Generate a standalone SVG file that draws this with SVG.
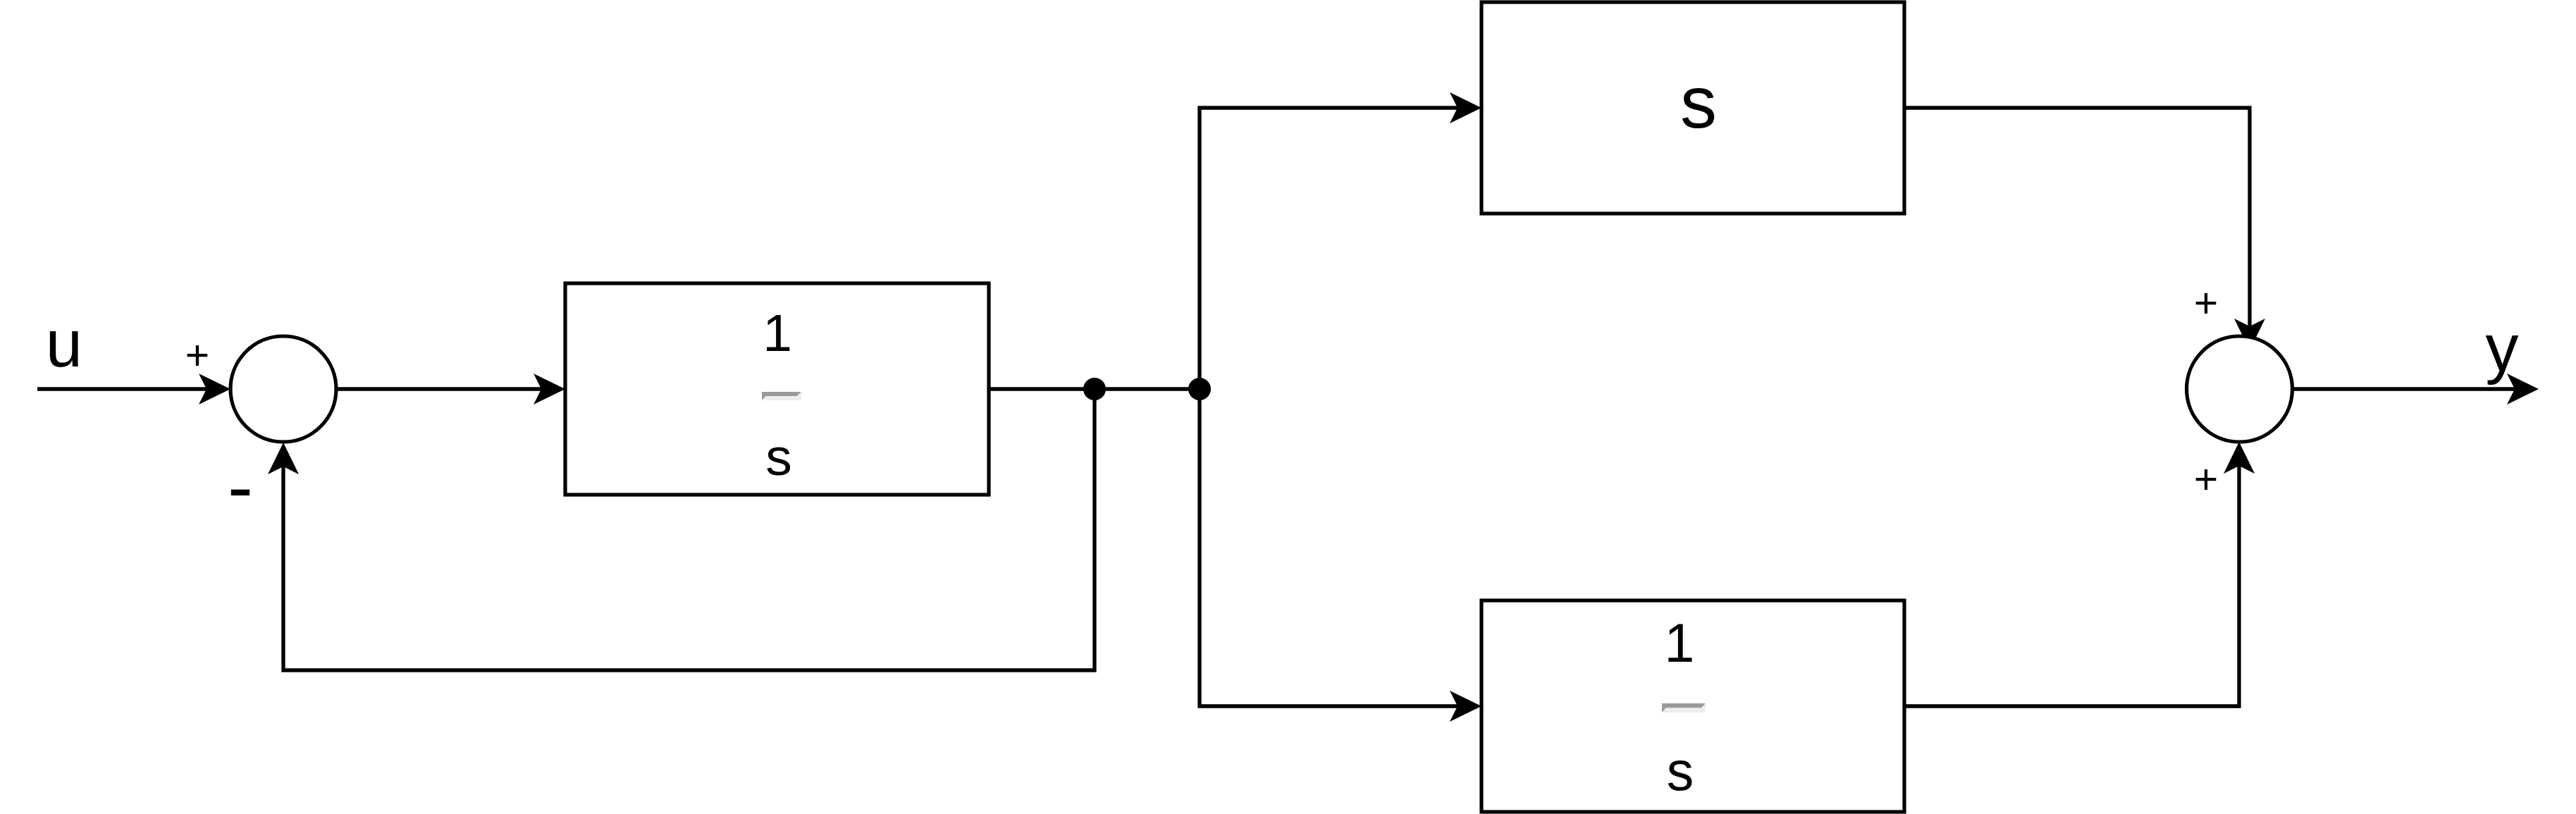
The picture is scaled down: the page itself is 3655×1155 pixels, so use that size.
<svg xmlns="http://www.w3.org/2000/svg" width="3655" height="1155" viewBox="0 0 3655 1155">
<style>
  .blk { fill: #ffffff; stroke: #000000; stroke-width: 5.2; }
  .sum { fill: #ffffff; stroke: #000000; stroke-width: 5.2; }
  .wire { fill: none; stroke: #000000; stroke-width: 5.3; stroke-linecap: butt; stroke-linejoin: miter; }
  .arr { marker-end: url(#arrow); }
  .dot { fill: #000000; }
  text { font-family: "Liberation Sans", Arial, Helvetica, sans-serif; fill: #000000; text-anchor: middle; }
  .big { font-size: 94px; }
  .frac { font-size: 75px; }
  .sign { font-size: 59px; }
  .hrd { fill: #9a9a9a; }
  .hrl { fill: #eeeeee; }
</style>
<defs>
  <marker id="arrow" markerUnits="userSpaceOnUse" markerWidth="50" markerHeight="50" refX="11" refY="25" orient="auto" overflow="visible">
    <path d="M0,3 L45,25 L0,47 L11,25 Z" fill="#000000"/>
  </marker>
</defs>

<g id="connectors">
  <path class="wire arr" d="M53,552 L293,552"/>
  <path class="wire arr" d="M477,552 L768,552"/>
  <path class="wire" d="M1404,552 L1702,552"/>
  <path class="wire arr" d="M1553,552 L1553,951 L402,951 L402,662"/>
  <path class="wire arr" d="M1702,552 L1702,153 L2068,153"/>
  <path class="wire arr" d="M1702,552 L1702,1002 L2068,1002"/>
  <path class="wire arr" d="M2702,153 L3192,153 L3192,463"/>
  <path class="wire arr" d="M2702,1002 L3177,1002 L3177,661"/>
  <path class="wire arr" d="M3253,552 L3568,552"/>
  <circle class="dot" cx="1553" cy="552" r="16"/>
  <circle class="dot" cx="1702" cy="552" r="16"/>
</g>

<g id="label-u">
  <text class="big" x="91" y="520">u</text>
</g>

<g id="sum1">
  <circle class="sum" cx="402" cy="552" r="75"/>
  <text class="sign" x="280" y="524">+</text>
  <text x="341" y="727" style="font-size:108px">-</text>
</g>

<g id="block-integrator1">
  <rect class="blk" x="802" y="402" width="601" height="300"/>
  <text class="frac" x="1103" y="498">1</text>
  <polygon class="hrd" points="1081,556 1137,556 1131,562 1087,562 1081,568"/>
  <polygon class="hrl" points="1081,568 1087,562 1131,562 1137,556 1137,568"/>
  <text class="frac" x="1105" y="674">s</text>
</g>

<g id="block-s">
  <rect class="blk" x="2102" y="3" width="600" height="300"/>
  <text x="2410" y="181" style="font-size:104px">s</text>
</g>

<g id="block-integrator2">
  <rect class="blk" x="2102" y="852" width="600" height="300"/>
  <text class="frac" x="2383" y="939" style="font-size:77px">1</text>
  <polygon class="hrd" points="2358,998 2420,998 2414,1004.5 2364,1004.5 2358,1011"/>
  <polygon class="hrl" points="2358,1011 2364,1004.5 2414,1004.5 2420,998 2420,1011"/>
  <text class="frac" x="2384" y="1121" style="font-size:77px">s</text>
</g>

<g id="sum2">
  <circle class="sum" cx="3177.5" cy="552" r="75"/>
  <text class="sign" x="3130" y="450">+</text>
  <text class="sign" x="3130" y="700">+</text>
</g>

<g id="label-y">
  <text class="big" x="3550" y="526">y</text>
</g>
</svg>
